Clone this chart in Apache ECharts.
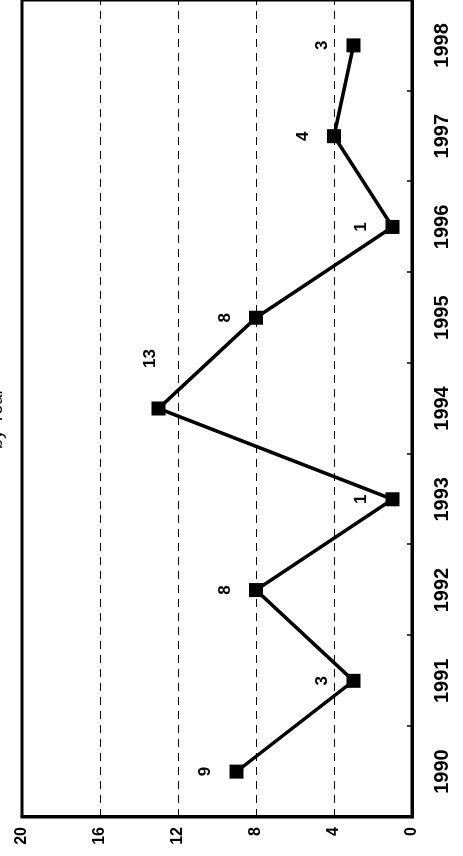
<!DOCTYPE html>
<html>
<head>
<meta charset="utf-8">
<script src="https://cdn.jsdelivr.net/npm/echarts@6/dist/echarts.min.js"></script>
<style>
html,body{margin:0;padding:0;width:463px;height:856px;overflow:hidden;background:#fff;}
#chart{position:absolute;left:0;top:0;width:856px;height:463px;transform-origin:0 0;transform:translateY(856px) rotate(-90deg);}
</style>
</head>
<body>
<div id="chart"></div>
<script>
const years = ['1990','1991','1992','1993','1994','1995','1996','1997','1998'];
const counts = [9, 3, 8, 1, 13, 8, 1, 4, 3];
const valueTicks = [0, 4, 8, 12, 16, 20];
const titleText = 'by Year';

const chart = echarts.init(document.getElementById('chart'), null, {renderer: 'canvas'});
const font = 'Liberation Sans, Arial, sans-serif';
const seriesData = counts.map((v, i) => {
  const item = {value: v};
  if (years[i] === '1994') item.label = {offset: [50, -8]};
  return item;
});
chart.setOption({
  animation: false,
  backgroundColor: '#fff',
  grid: {left: 39, top: 22, width: 821, height: 390, show: true, borderColor: '#000', borderWidth: 3, containLabel: false},
  graphic: [{
    type: 'text', left: 439 - 32, top: -12,
    style: {text: titleText, fill: '#000', font: '18px ' + font}
  }],
  xAxis: {
    type: 'category', data: years, boundaryGap: true,
    axisLine: {show: true, lineStyle: {color: '#000', width: 3}},
    axisTick: {show: true, inside: true, length: 5, lineStyle: {color: '#000', width: 1.5}},
    axisLabel: {color: '#000', fontSize: 20, fontWeight: 'bold', fontFamily: font, margin: 20}
  },
  yAxis: {
    type: 'value', min: valueTicks[0], max: valueTicks[valueTicks.length - 1], interval: 4,
    axisLine: {show: true, lineStyle: {color: '#000', width: 3}},
    axisTick: {show: true, inside: true, length: 4, lineStyle: {color: '#000', width: 1}},
    axisLabel: {color: '#000', fontSize: 16, fontWeight: 'bold', fontFamily: font, margin: 10},
    splitLine: {show: true, lineStyle: {color: '#000', width: 1, type: [8, 6]}}
  },
  series: [{
    type: 'line', data: seriesData,
    symbol: 'rect', symbolSize: 14,
    itemStyle: {color: '#000'},
    lineStyle: {color: '#000', width: 3.5},
    label: {show: true, position: 'inside', offset: [0, -31], color: '#000', fontSize: 17, fontWeight: 'bold', fontFamily: font}
  }]
});
</script>
</body>
</html>
